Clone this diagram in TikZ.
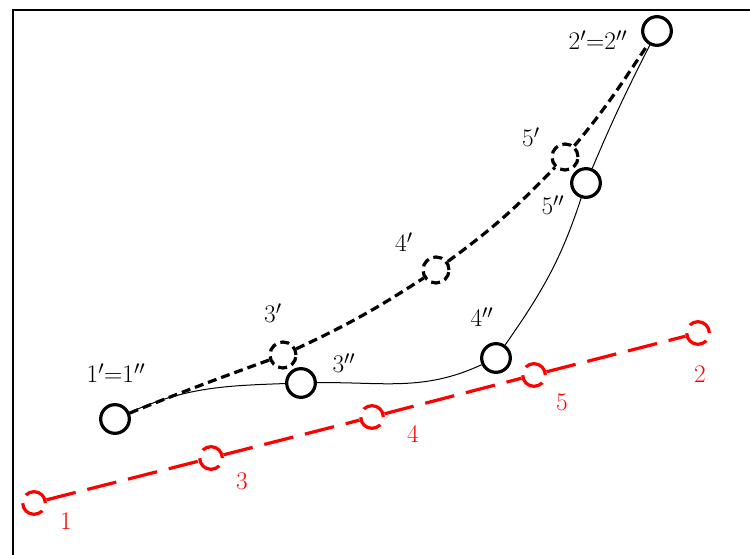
\documentclass[tikz,border=0pt]{standalone}
\begin{document}
\begin{tikzpicture}[x=0.75pt,y=-0.75pt,
  lbl/.style={font=\fontsize{19}{22}\selectfont, inner sep=0pt, anchor=base},
  rlbl/.style={lbl, text=red},
  solidpt/.style={circle, draw, line width=2.4pt, minimum size=21.5pt, inner sep=0pt, fill=white},
  dashpt/.style={circle, draw, line width=2.4pt, minimum size=19.5pt, inner sep=0pt, fill=white, dash pattern=on 6.75pt off 3.75pt},
  redpt/.style={circle, draw=red, line width=2.4pt, minimum size=17pt, inner sep=0pt, fill=white, dash pattern=on 20pt off 6.7pt},
  thinline/.style={line width=0.75pt},
  dashline/.style={line width=2.4pt, dash pattern=on 6.75pt off 3.75pt},
  redline/.style={draw=red, line width=2.4pt, dash pattern=on 22.5pt off 9pt},
  frameline/.style={line width=1.5pt}
]
\useasboundingbox (0,0) rectangle (750,555);
% frame
\coordinate (fa) at (12.5,556);
\coordinate (fb) at (751,10);
\draw[frameline] (fa) |- (fb);

% black nodes
\node[solidpt] (n1) at (115,419) {};
\node[solidpt] (n2) at (657,31) {};
\node[dashpt] (p3) at (283,355) {};
\node[dashpt] (p4) at (436,270) {};
\node[dashpt] (p5) at (565,157) {};
\node[solidpt] (q3) at (301,383) {};
\node[solidpt] (q4) at (496,358) {};
\node[solidpt] (q5) at (586,183) {};

% red nodes
\node[redpt] (r1) at (34,503) {};
\node[redpt] (r3) at (211,458) {};
\node[redpt] (r4) at (372,417) {};
\node[redpt] (r5) at (534,375) {};
\node[redpt] (r2) at (698,333) {};

% curves
\draw[dashline] (n1) to[out=22,in=200] (p3)
                (p3) to[out=25,in=213] (p4)
                (p4) to[out=36,in=226] (p5)
                (p5) to[out=50,in=236] (n2);
\draw[thinline] (n1) to[out=24,in=182] (q3)
                (q3) to[out=1,in=205] (q4)
                (q4) to[out=55,in=252] (q5)
                (q5) to[out=67,in=243] (n2);
\draw[redline] (r1) -- (r3) -- (r4) -- (r5) -- (r2);

% labels
\node[lbl] (l1) at (116,383) {1$'$=1$''$};
\node[lbl] (l2) at (598,50) {2$'$=2$''$};
\node[lbl] (l3p) at (273,323) {3$'$};
\node[lbl] (l4p) at (404,252) {4$'$};
\node[lbl] (l5p) at (531,147) {5$'$};
\node[lbl] (l3q) at (344,373) {3$''$};
\node[lbl] (l4q) at (482,327) {4$''$};
\node[lbl] (l5q) at (553,215) {5$''$};
\node[rlbl] (t1) at (66,530) {1};
\node[rlbl] (t3) at (242,490) {3};
\node[rlbl] (t4) at (413,443) {4};
\node[rlbl] (t5) at (562,411) {5};
\node[rlbl] (t2) at (700,383) {2};
\end{tikzpicture}
\end{document}
